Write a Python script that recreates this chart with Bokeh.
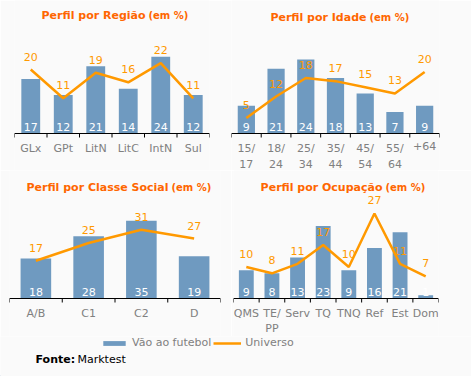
from bokeh.plotting import figure
from bokeh.models import Range1d, Label, Legend, LegendItem, Span
from bokeh.layouts import column, row
from bokeh.embed import file_html
from bokeh.resources import INLINE
from bokeh.core.properties import value

# ---------------- data ----------------
reg_cats = ["GLx", "GPt", "LitN", "LitC", "IntN", "Sul"]
reg_bars = [17, 12, 21, 14, 24, 12]
reg_univ = [20, 11, 19, 16, 22, 11]

age_cats = ["15/\n17", "18/\n24", "25/\n34", "35/\n44", "45/\n54", "55/\n64", "+64"]
age_bars = [9, 21, 24, 18, 13, 7, 9]
age_univ = [5, 12, 18, 17, 15, 13, 20]

cls_cats = ["A/B", "C1", "C2", "D"]
cls_bars = [18, 28, 35, 19]
cls_univ = [17, 25, 31, 27]

occ_cats = ["QMS", "TE/\nPP", "Serv", "TQ", "TNQ", "Ref", "Est", "Dom"]
occ_bars = [9, 8, 13, 23, 9, 16, 21, 1]
occ_univ = [10, 8, 11, 17, 10, 27, 11, 7]

series_names = ["Vão ao futebol", "Universo"]
source_text = ["Fonte:", "Marktest"]

# ---------------- style ----------------
BG = "#FAFAFA"
BAR = "#6F9AC0"
LINE = "#FF9900"
TITLE = "#FF6600"
GRAY = "#808080"
FONT = "DejaVu Sans"
TICK_PX = 4


def panel(cats, bars, univ, main, sub, width, height, left, right, bottom_px,
          ppu, split_x, title_from_top, line_h):
    n = len(cats)
    p = figure(width=width, height=height, title=None,
               x_range=Range1d(0, n),
               y_range=Range1d(-bottom_px / ppu, (height - bottom_px) / ppu),
               output_backend="svg", toolbar_location=None,
               x_axis_location=None, y_axis_location=None,
               min_border_left=left, min_border_right=right,
               min_border_bottom=0, min_border_top=0,
               background_fill_color=BG, border_fill_color=BG,
               outline_line_color=None)
    p.grid.grid_line_color = None
    xs = [i + 0.5 for i in range(n)]
    edges = list(range(n + 1))

    p.vbar(x=xs, top=bars, width=0.58, bottom=0, fill_color=BAR, line_color=None)
    p.line(x=xs, y=univ, line_color=LINE, line_width=2.5)
    p.text(x=xs, y=[0] * n, text=[str(v) for v in bars], text_color="white",
           text_font=value(FONT), text_font_size="11px", text_align="center",
           text_baseline="bottom", y_offset=-3)
    p.text(x=xs, y=univ, text=[str(v) for v in univ], text_color=LINE,
           text_font=value(FONT), text_font_size="11px", text_align="center",
           text_baseline="bottom", y_offset=-9)

    # category axis: base line, boundary ticks, centred labels
    p.add_layout(Span(location=0, dimension="width", line_color="black",
                      line_width=1))
    p.segment(x0=edges, y0=[0] * (n + 1), x1=edges,
              y1=[-TICK_PX / ppu] * (n + 1), line_color="black", line_width=1)
    p.text(x=xs, y=[0] * n, text=cats, text_color=GRAY,
           text_font=value(FONT), text_font_size="11px", text_align="center",
           text_baseline="top", y_offset=8, text_line_height=line_h)

    ty = height - title_from_top
    p.add_layout(Label(x=split_x, y=ty, x_units="screen", y_units="screen",
                       text=main, text_font=FONT, text_font_size="11px",
                       text_font_style="bold", text_color=TITLE,
                       text_align="right", text_baseline="middle"))
    p.add_layout(Label(x=split_x + 3, y=ty, x_units="screen", y_units="screen",
                       text=sub, text_font=FONT, text_font_size="10px",
                       text_font_style="bold", text_color=TITLE,
                       text_align="left", text_baseline="middle"))
    return p


p1 = panel(reg_cats, reg_bars, reg_univ, "Perfil por Região", "(em %)",
           231, 170, 14, 22, 37, 3.2, 131, 15, 1.3)
p2 = panel(age_cats, age_bars, age_univ, "Perfil por Idade", "(em %)",
           240, 170, 0, 32, 37, 3.08, 135, 17, 1.3)
p3 = panel(cls_cats, cls_bars, cls_univ, "Perfil por Classe Social", "(em %)",
           231, 166, 9, 11, 38, 2.22, 159, 17, 1.2)
p4 = panel(occ_cats, occ_bars, occ_univ, "Perfil por Ocupação", "(em %)",
           240, 166, 2, 33, 38, 3.15, 149, 17, 1.2)

foot = figure(width=471, height=40, title=None,
              x_range=Range1d(0, 471), y_range=Range1d(0, 40),
              output_backend="svg", toolbar_location=None,
              x_axis_location=None, y_axis_location=None,
              min_border_left=0, min_border_right=0,
              min_border_bottom=0, min_border_top=0,
              background_fill_color=BG, border_fill_color=BG,
              outline_line_color=None)
foot.grid.grid_line_color = None
# off-screen proxies so that the legend can show the two series' styles
r_bar = foot.vbar(x=[-100], top=[1], width=1, fill_color=BAR, line_color=None)
r_line = foot.line(x=[-100, -99], y=[1, 1], line_color=LINE, line_width=2.5)
legend = Legend(items=[LegendItem(label=series_names[0], renderers=[r_bar]),
                       LegendItem(label=series_names[1], renderers=[r_line])],
                orientation="horizontal", location=(100, 27),
                glyph_width=28, glyph_height=6, label_height=13,
                label_standoff=4, spacing=2, padding=0, margin=0,
                label_text_font=FONT, label_text_font_size="11px",
                label_text_color=GRAY, background_fill_alpha=0,
                border_line_color=None)
foot.add_layout(legend)
foot.add_layout(Label(x=35, y=17, text=source_text[0], text_font=FONT,
                      text_font_size="11px", text_font_style="bold",
                      text_color="black", text_baseline="middle"))
foot.add_layout(Label(x=77, y=17, text=source_text[1], text_font=FONT,
                      text_font_size="11px", text_color="black",
                      text_baseline="middle"))

layout = column(row(p1, p2), row(p3, p4), foot)
open("out.html", "w").write(file_html(layout, INLINE))
